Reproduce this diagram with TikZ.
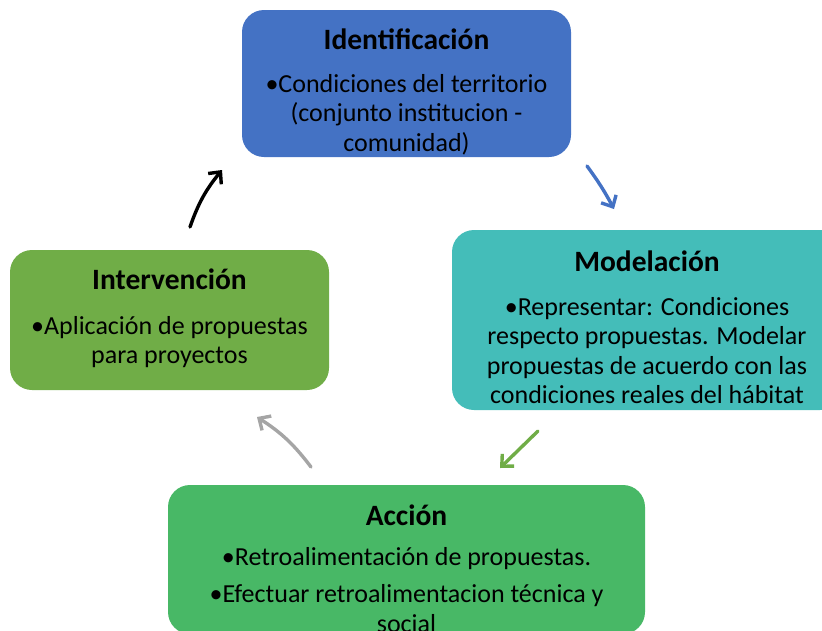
\documentclass[tikz,border=0pt]{standalone}
\usepackage{fontspec}
\setmainfont{Carlito}
\usetikzlibrary{positioning, arrows.meta}

\definecolor{azul}{HTML}{4472C4}
\definecolor{turquesa}{HTML}{44BDB9}
\definecolor{verde}{HTML}{48B866}
\definecolor{oliva}{HTML}{70AD47}
\definecolor{gris}{HTML}{A5A5A5}

\newcommand{\titulo}[1]{{\fontsize{29.5}{29}\selectfont\bfseries #1}}

\begin{document}
\begin{tikzpicture}[x=1pt, y=-1pt, >={Straight Barb[length=9pt,width=17pt]},
    caja/.style={rectangle, rounded corners=22pt, inner sep=0pt},
    texto/.style={align=center, inner sep=0pt, font=\fontsize{26}{29.3}\selectfont},
    flecha/.style={->, line width=3.4pt, line cap=round}]
    \useasboundingbox (0,0) rectangle (822,630);
    \clip (0,0) rectangle (822,630);

    % cajas
    \node[caja, fill=azul, minimum width=329pt, minimum height=147pt] (ident) at (406.5,83.5) {};
    \node[caja, fill=turquesa, minimum width=390pt, minimum height=180pt] (model) at (647,320) {};
    \node[caja, fill=oliva, minimum width=319pt, minimum height=140pt] (interv) at (169.5,320) {};
    \node[caja, fill=verde, minimum width=477pt, minimum height=149pt] (accion) at (406.5,559.5) {};

    % textos
    \node[texto, below=18.5pt of ident.north] (ident-txt)
        {\titulo{Identificación}\\[14pt]•Condiciones del territorio\\(conjunto institucion -\\comunidad)};
    \node[texto, below=20.5pt of model.north] (model-txt)
        {\titulo{Modelación}\\[15pt]•Representar: Condiciones\\respecto propuestas. Modelar\\propuestas de acuerdo con las\\condiciones reales del hábitat};
    \node[texto, below=18.5pt of interv.north] (interv-txt)
        {\titulo{Intervención}\\[16pt]•Aplicación de propuestas\\para proyectos};
    \node[texto, below=19.5pt of accion.north] (accion-txt)
        {\titulo{Acción}\\[11pt]•Retroalimentación de propuestas.\\[8pt]•Efectuar retroalimentacion técnica y\\social};

    % flechas
    \coordinate (f1-ini) at (190,227);
    \coordinate (f1-fin) at (222,170);
    \coordinate (f2-ini) at (587,166);
    \coordinate (f2-fin) at (614,209);
    \coordinate (f3-ini) at (538,431);
    \coordinate (f3-fin) at (500,468);
    \coordinate (f4-ini) at (311,467);
    \coordinate (f4-fin) at (257,417);

    \draw[flecha, black] (f1-ini) to[bend left=10] (f1-fin);
    \draw[flecha, azul] (f2-ini) to[bend left=4] (f2-fin);
    \draw[flecha, oliva] (f3-ini) -- (f3-fin);
    \draw[flecha, gris] (f4-ini) to[bend right=10] (f4-fin);
\end{tikzpicture}
\end{document}
